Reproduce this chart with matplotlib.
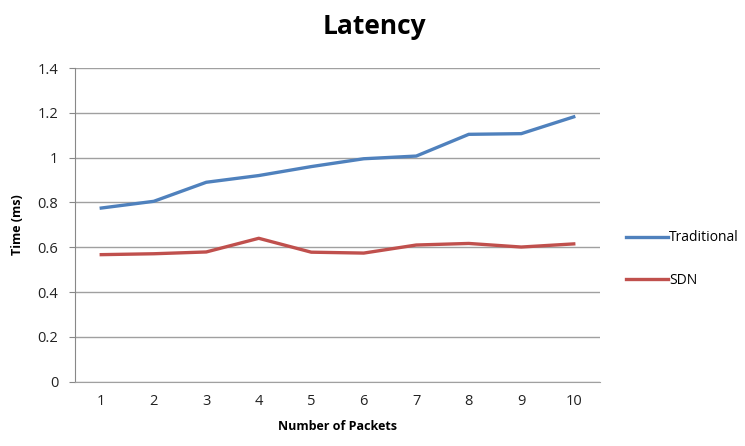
import matplotlib
matplotlib.use("Agg")
import matplotlib.pyplot as plt

# latency per packet count (ms)
packets = [1, 2, 3, 4, 5, 6, 7, 8, 9, 10]
traditional = [0.775, 0.805, 0.89, 0.92, 0.96, 0.995, 1.007, 1.104, 1.107, 1.182]
sdn = [0.567, 0.571, 0.579, 0.64, 0.578, 0.574, 0.61, 0.617, 0.601, 0.615]
y_ticks = [0, 0.2, 0.4, 0.6, 0.8, 1, 1.2, 1.4]

plt.rcParams["font.family"] = ["Open Sans", "DejaVu Sans"]

fig = plt.figure(figsize=(7.45, 4.46), dpi=100)
ax = fig.add_axes([75 / 745, 1 - 381.7 / 446, 525 / 745, (381.7 - 68) / 446])

ax.plot(packets, traditional, color="#4F81BD", lw=2.4, label="Traditional")
ax.plot(packets, sdn, color="#C0504D", lw=2.4, label="SDN")

ax.set_xlim(0.5, 10.5)
ax.set_ylim(0, 1.4)
ax.set_xticks(packets)
ax.set_xticklabels([str(p) for p in packets])
ax.set_yticks(y_ticks)
ax.set_yticklabels([f"{v:g}" for v in y_ticks])
ax.tick_params(axis="x", length=0, pad=9, labelsize=10.5, colors="#222222")
ax.tick_params(axis="y", length=4, direction="out", color="#888888",
               pad=8, labelsize=10.5, labelcolor="#222222")

ax.yaxis.grid(True, color="#a0a0a0", lw=1.0)
ax.set_axisbelow(True)
for side in ("top", "right"):
    ax.spines[side].set_visible(False)
ax.spines["left"].set_color("#888888")
ax.spines["bottom"].set_color("#a0a0a0")

ax.set_xlabel("Number of Packets", fontsize=9, fontweight="bold", labelpad=8)
ax.set_ylabel("Time (ms)", fontsize=9, fontweight="bold", labelpad=10)
fig.text(374 / 745, 1 - 26 / 446, "Latency", ha="center", va="center",
         fontsize=19, fontweight="bold")

ax.legend(loc="center left", bbox_to_anchor=(1.05, 0.39), frameon=False,
          fontsize=10, handlelength=3.0, handletextpad=0.1,
          labelspacing=2.0, borderaxespad=0, borderpad=0)

fig.savefig("out.png", dpi=100)
